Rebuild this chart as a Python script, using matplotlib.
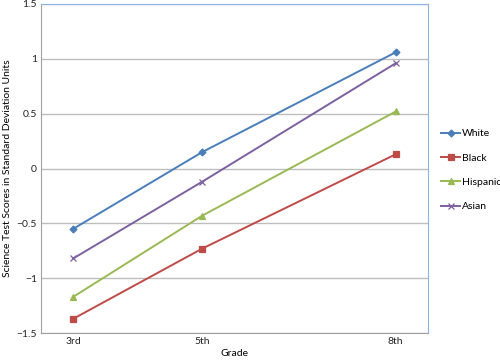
import matplotlib.pyplot as plt

# grade positions (numeric so spacing matches 3rd/5th/8th)
grades = [3, 5, 8]
grade_labels = ['3rd', '5th', '8th']

white = [-0.55, 0.15, 1.06]
black = [-1.37, -0.73, 0.13]
hispanic = [-1.17, -0.43, 0.52]
asian = [-0.82, -0.12, 0.96]

series = [
    ('White', white, '#4A7EBB', 'D', 3.5),
    ('Black', black, '#BE4B48', 's', 4),
    ('Hispanic', hispanic, '#98B954', '^', 4.5),
    ('Asian', asian, '#7D60A0', 'x', 4.5),
]

plt.rcParams['font.family'] = ['Lato', 'DejaVu Sans']
fs = 7.5

fig = plt.figure(figsize=(5, 3.62), dpi=100)
ax = fig.add_axes([0.082, 0.080, 0.774, 0.909])

for name, vals, col, mk, ms in series:
    ax.plot(grades, vals, color=col, marker=mk, markersize=ms, linewidth=1.4,
            markeredgewidth=0.9, label=name)

ax.set_xlim(2.5, 8.5)
ax.set_ylim(-1.5, 1.5)
ax.set_xticks(grades)
ax.set_xticklabels(grade_labels)
ax.set_yticks([-1.5, -1, -0.5, 0, 0.5, 1, 1.5])
ax.set_yticklabels(['\u22121.5', '\u22121', '\u22120.5', '0', '0.5', '1', '1.5'])
ax.yaxis.grid(True, color='#BEBEBE', linewidth=1)
ax.set_axisbelow(True)
ax.tick_params(length=0, labelsize=fs, colors='#222222', pad=3)

for s in ['left', 'bottom']:
    ax.spines[s].set_color('#A0A0A0')
for s in ['top', 'right']:
    ax.spines[s].set_color('#8DB3E2')

ax.set_xlabel('Grade', fontsize=fs, labelpad=2)
ax.set_ylabel('Science Test Scores in Standard Deviation Units', fontsize=fs, labelpad=3)

ax.legend(loc='center left', bbox_to_anchor=(1.01, 0.495), frameon=False,
          fontsize=fs, handlelength=1.8, handletextpad=0.2, labelspacing=1.45)

fig.savefig('out.png', dpi=100)
